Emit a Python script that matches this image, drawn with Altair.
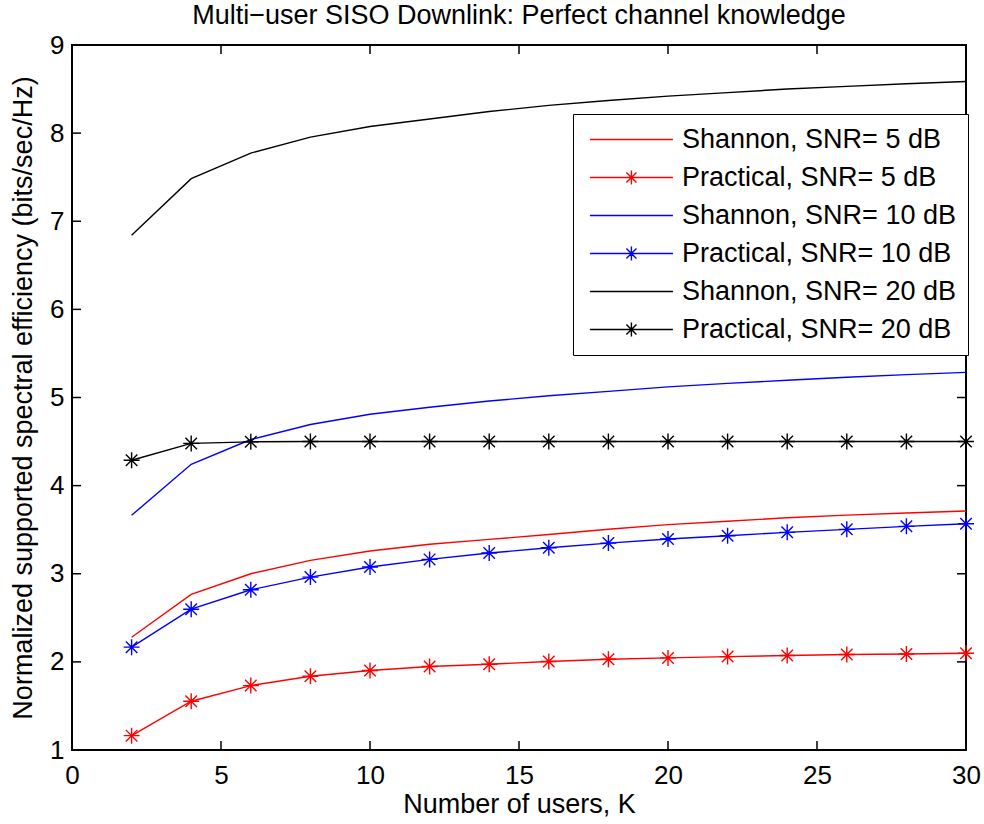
import altair as alt
import pandas as pd

# Number of users K
users = [2, 4, 6, 8, 10, 12, 14, 16, 18, 20, 22, 24, 26, 28, 30]

# Normalized supported spectral efficiency (bits/sec/Hz)
shannon_5 = [2.280, 2.765, 3.000, 3.152, 3.258, 3.335, 3.390, 3.445, 3.505, 3.557,
             3.595, 3.635, 3.665, 3.690, 3.712]
practical_5 = [1.163, 1.553, 1.731, 1.837, 1.902, 1.947, 1.973, 2.004, 2.030, 2.045,
               2.060, 2.072, 2.083, 2.090, 2.098]
shannon_10 = [3.663, 4.242, 4.523, 4.693, 4.810, 4.890, 4.960, 5.020, 5.070, 5.120,
              5.160, 5.195, 5.230, 5.260, 5.285]
practical_10 = [2.167, 2.598, 2.818, 2.962, 3.076, 3.163, 3.235, 3.295, 3.348, 3.394,
                3.432, 3.470, 3.504, 3.538, 3.568]
shannon_20 = [6.840, 7.483, 7.774, 7.955, 8.075, 8.160, 8.245, 8.315, 8.370, 8.420,
              8.460, 8.500, 8.530, 8.560, 8.585]
practical_20 = [4.288, 4.479, 4.497, 4.500, 4.500, 4.500, 4.500, 4.500, 4.500, 4.500,
                4.500, 4.500, 4.500, 4.500, 4.500]

series_names = [
    "Shannon, SNR= 5 dB",
    "Practical, SNR= 5 dB",
    "Shannon, SNR= 10 dB",
    "Practical, SNR= 10 dB",
    "Shannon, SNR= 20 dB",
    "Practical, SNR= 20 dB",
]
series_values = [shannon_5, practical_5, shannon_10, practical_10, shannon_20, practical_20]
series_colors = ["#ff0000", "#ff0000", "#0000ff", "#0000ff", "#000000", "#000000"]

x_ticks = [0, 5, 10, 15, 20, 25, 30]
y_ticks = [1, 2, 3, 4, 5, 6, 7, 8, 9]

FONT = "Liberation Sans, Arial, Helvetica, sans-serif"
W, H = 894, 705
TICK = 9

# asterisk marker: plus and cross combined
STAR = "M0,-1L0,1M-1,0L1,0M-0.72,-0.72L0.72,0.72M-0.72,0.72L0.72,-0.72"
# legend glyphs: a short line, optionally with an asterisk at its middle;
# both glyphs span the same box so the legend rows line up
LEG_LINE = "M-1.8,0L10.06,0M4.13,-1M4.13,1"
LEG_STAR = ("M-1.8,0L10.06,0M4.13,-1L4.13,1M3.41,-0.72L4.85,0.72"
            "M3.41,0.72L4.85,-0.72")
legend_shapes = [LEG_LINE, LEG_STAR] * 3

rows = []
for name, vals in zip(series_names, series_values):
    for k, v in zip(users, vals):
        rows.append({"K": k, "eff": v, "series": name})
df = pd.DataFrame(rows)

xscale = alt.Scale(domain=[0, 30], nice=False, zero=False)
yscale = alt.Scale(domain=[1, 9], nice=False, zero=False)

x_axis = alt.Axis(values=x_ticks, ticks=False, domain=False, grid=False,
                  labelFlush=False, labelPadding=12,
                  title="Number of users, K", titlePadding=3)
y_axis = alt.Axis(values=y_ticks, ticks=False, domain=False, grid=False,
                  labelFlush=False, labelPadding=8,
                  title="Normalized supported spectral efficiency (bits/sec/Hz)",
                  titlePadding=12)


def X(field):
    return alt.X(field, scale=xscale, axis=x_axis)


def Y(field):
    return alt.Y(field, scale=yscale, axis=y_axis)


base = alt.Chart(df)

lines = base.mark_line(strokeWidth=1.4).encode(
    x=X("K:Q"),
    y=Y("eff:Q"),
    color=alt.Color("series:N", scale=alt.Scale(domain=series_names, range=series_colors),
                    legend=None),
    order="K:Q",
)

stars = base.mark_point(shape=STAR, size=256, filled=False, strokeWidth=1.4, opacity=1).encode(
    x=X("K:Q"),
    y=Y("eff:Q"),
    color=alt.Color("series:N", scale=alt.Scale(domain=series_names, range=series_colors),
                    legend=None),
).transform_filter(alt.FieldOneOfPredicate(field="series", oneOf=series_names[1::2]))

# legend carrier: draws nothing in the plot, only holds the colour/shape legend
legend_layer = base.mark_point(filled=False, size=196, strokeWidth=1.4, opacity=1).encode(
    x=X("K:Q"),
    y=Y("eff:Q"),
    color=alt.Color("series:N", scale=alt.Scale(domain=series_names, range=series_colors),
                    legend=alt.Legend(title=None)),
    shape=alt.Shape("series:N", scale=alt.Scale(domain=series_names, range=legend_shapes),
                    legend=alt.Legend(title=None)),
).transform_filter("false")

xt = pd.DataFrame({"v": x_ticks})
yt = pd.DataFrame({"v": y_ticks})
tick_style = dict(color="black", strokeWidth=1.5)

ticks_bottom = alt.Chart(xt).mark_rule(**tick_style).encode(
    x=X("v:Q"), y=alt.value(H), y2=alt.value(H - TICK))
ticks_top = alt.Chart(xt).mark_rule(**tick_style).encode(
    x=X("v:Q"), y=alt.value(0), y2=alt.value(TICK))
ticks_left = alt.Chart(yt).mark_rule(**tick_style).encode(
    y=Y("v:Q"), x=alt.value(0), x2=alt.value(TICK))
ticks_right = alt.Chart(yt).mark_rule(**tick_style).encode(
    y=Y("v:Q"), x=alt.value(W), x2=alt.value(W - TICK))

chart = alt.layer(
    lines, stars, ticks_bottom, ticks_top, ticks_left, ticks_right, legend_layer
).resolve_scale(
    color="independent", shape="independent"
).resolve_legend(
    color="independent", shape="independent"
).properties(
    width=W,
    height=H,
    background="white",
    autosize=alt.AutoSizeParams(type="none"),
    padding={"left": 72, "top": 45, "right": 18, "bottom": 74},
    title=alt.TitleParams(
        "Multi\u2212user SISO Downlink: Perfect channel knowledge",
        font=FONT, fontSize=27, fontWeight="normal", color="black",
        anchor="middle", offset=2,
    ),
).configure_view(
    stroke="black", strokeWidth=2
).configure_axis(
    labelFont=FONT, labelFontSize=26, labelColor="black",
    titleFont=FONT, titleFontSize=27, titleFontWeight="normal", titleColor="black",
).configure_legend(
    orient="none", legendX=501, legendY=69,
    labelFont=FONT, labelFontSize=27, labelColor="black", labelLimit=0,
    labelOffset=66, symbolOffset=4, symbolSize=196,
    strokeColor="black", fillColor="white", padding=12,
    rowPadding=10, symbolStrokeWidth=1.4, cornerRadius=0,
)

chart.save("out.html", embed_options={"renderer": "svg", "actions": False})
